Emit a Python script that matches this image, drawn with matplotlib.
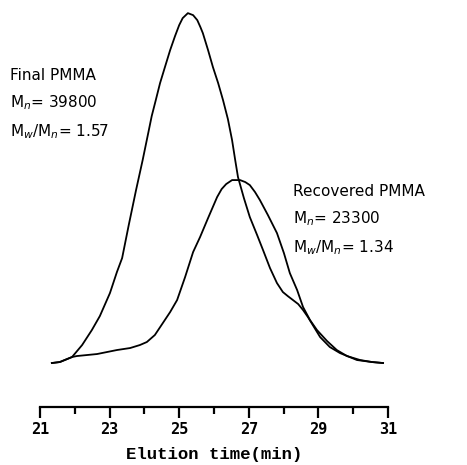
import matplotlib
matplotlib.use("Agg")
import matplotlib.pyplot as plt

# GPC traces (time in min, detector signal in arbitrary units)
t_final = [21.34, 21.57, 21.92, 22.21, 22.49, 22.72, 23.01, 23.21, 23.36, 23.55,
           23.76, 23.95, 24.11, 24.21, 24.32, 24.45, 24.59, 24.74, 24.88, 25.00,
           25.10, 25.25, 25.40, 25.52, 25.61, 25.68, 25.83, 25.97, 26.12, 26.26,
           26.40, 26.52, 26.61, 26.69, 26.86, 27.03, 27.24, 27.41, 27.61, 27.81,
           27.98, 28.12, 28.27, 28.42, 28.56, 28.70, 28.84, 29.05, 29.33, 29.62,
           29.90, 30.11, 30.54, 30.86]
s_final = [2, 3, 8, 20, 35, 49, 72, 93, 107, 140,
           175, 205, 232, 249, 264, 282, 298, 315, 329, 340,
           347, 352, 350, 345, 338, 332, 315, 298, 282, 265,
           246, 225, 205, 188, 167, 148, 130, 115, 97, 82,
           73, 69, 65, 61, 55, 48, 40, 28, 18, 12,
           8, 5, 3, 2]

t_recov = [21.34, 21.57, 21.92, 22.06, 22.64, 23.21, 23.59, 23.87, 24.07, 24.30,
           24.53, 24.74, 24.94, 25.17, 25.40, 25.60, 25.83, 26.09, 26.22, 26.35,
           26.52, 26.75, 26.90, 27.03, 27.18, 27.32, 27.55, 27.81, 28.01, 28.18,
           28.39, 28.56, 28.76, 28.96, 29.25, 29.53, 29.82, 30.20, 30.54, 30.86]
s_recov = [2, 3, 8, 9, 11, 15, 17, 20, 23, 30,
           42, 53, 65, 88, 113, 128, 147, 168, 176, 181,
           185, 185, 183, 180, 173, 165, 150, 132, 112, 92,
           75, 58, 45, 35, 24, 15, 9, 5, 3, 2]

major_ticks = [21, 23, 25, 27, 29, 31]
minor_ticks = [22, 24, 26, 28, 30]

fig = plt.figure(figsize=(4.67, 4.65), dpi=100)
ax = fig.add_axes([0.0857, 0.1247, 0.745, 0.875])

ax.plot(t_final, s_final, color="black", lw=1.3)
ax.plot(t_recov, s_recov, color="black", lw=1.3)

ax.set_xlim(21, 31)
ax.set_ylim(-42, 365)

for side in ["top", "right", "left"]:
    ax.spines[side].set_visible(False)
ax.spines["bottom"].set_linewidth(1.6)
ax.set_yticks([])

ax.set_xticks(major_ticks)
ax.set_xticks(minor_ticks, minor=True)
ax.set_xticklabels([str(v) for v in major_ticks], family="DejaVu Sans Mono",
                   fontsize=11, fontweight="bold")
ax.tick_params(axis="x", which="major", direction="out", length=8, width=1.6, pad=3)
ax.tick_params(axis="x", which="minor", direction="out", length=5, width=1.6)
ax.set_xlabel("Elution time(min)", family="Liberation Mono", fontsize=12.5,
              fontweight="bold", labelpad=7)

fs = 11
fig.text(10 / 467, 1 - 75 / 465, "Final PMMA", fontsize=fs, va="center", ha="left")
fig.text(10 / 467, 1 - 103 / 465, "M$_n$= 39800", fontsize=fs, va="center", ha="left")
fig.text(10 / 467, 1 - 132 / 465, "M$_w$/M$_n$= 1.57", fontsize=fs, va="center", ha="left")

fig.text(293 / 467, 1 - 191 / 465, "Recovered PMMA", fontsize=fs, va="center", ha="left")
fig.text(293 / 467, 1 - 219 / 465, "M$_n$= 23300", fontsize=fs, va="center", ha="left")
fig.text(293 / 467, 1 - 248 / 465, "M$_w$/M$_n$= 1.34", fontsize=fs, va="center", ha="left")

fig.savefig("out.png", dpi=100)
